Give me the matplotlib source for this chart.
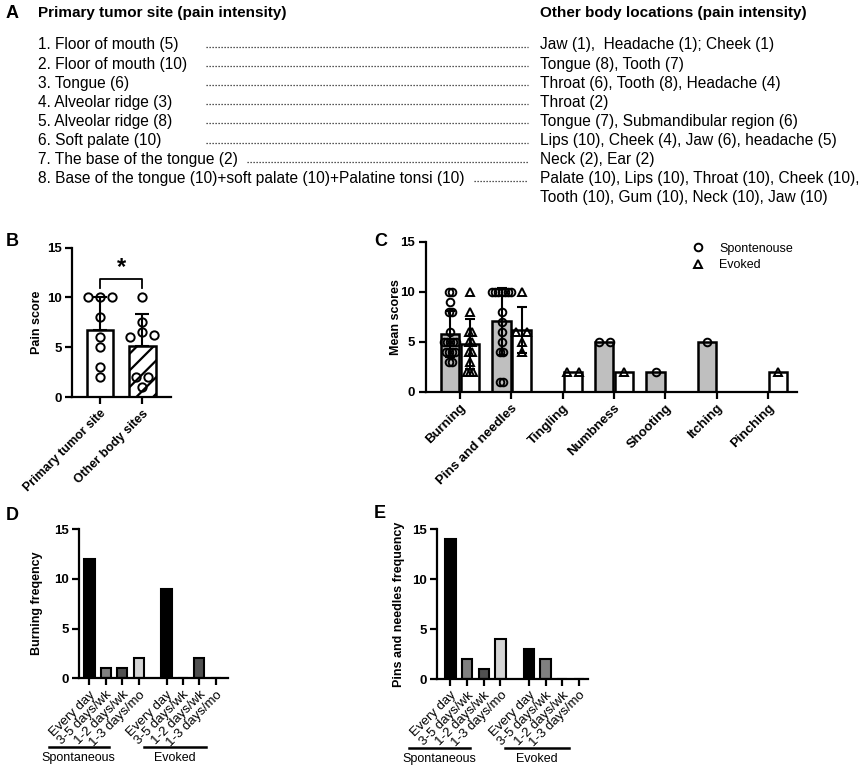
import numpy as np
import matplotlib
matplotlib.use('Agg')
import matplotlib.pyplot as plt
from matplotlib.lines import Line2D

plt.rcParams['font.family'] = ['Liberation Sans', 'DejaVu Sans']
plt.rcParams['hatch.linewidth'] = 1.6

# ---- panel A text
primary_sites = [
    "1. Floor of mouth (5)",
    "2. Floor of mouth (10)",
    "3. Tongue (6)",
    "4. Alveolar ridge (3)",
    "5. Alveolar ridge (8)",
    "6. Soft palate (10)",
    "7. The base of the tongue (2)",
    "8. Base of the tongue (10)+soft palate (10)+Palatine tonsi (10)",
]
other_sites = [
    "Jaw (1),  Headache (1); Cheek (1)",
    "Tongue (8), Tooth (7)",
    "Throat (6), Tooth (8), Headache (4)",
    "Throat (2)",
    "Tongue (7), Submandibular region (6)",
    "Lips (10), Cheek (4), Jaw (6), headache (5)",
    "Neck (2), Ear (2)",
    "Palate (10), Lips (10), Throat (10), Cheek (10),\nTooth (10), Gum (10), Neck (10), Jaw (10)",
]

# ---- panel B
b_labels = ["Primary tumor site", "Other body sites"]
primary_scores = [5, 10, 6, 3, 8, 10, 2, 10]
other_scores = [1, 7.5, 6, 2, 6.5, 6.25, 2, 10]

# ---- panel C
c_labels = ["Burning", "Pins and needles", "Tingling", "Numbness", "Shooting", "Itching", "Pinching"]
burning_spont = [10, 10, 9, 8, 8, 6, 5, 5, 5, 5, 5, 4, 4, 4, 4, 3, 3]
burning_evoked = [10, 8, 6, 6, 5, 5, 4, 4, 3, 2, 2, 2]
pins_spont = [10, 10, 10, 10, 10, 10, 10, 8, 7, 6, 5, 4, 4, 1, 1]
pins_evoked = [10, 6, 6, 5, 4]
tingling_spont = []
tingling_evoked = [2, 2]
numbness_spont = [5, 5]
numbness_evoked = [2]
shooting_spont = [2]
shooting_evoked = []
itching_spont = [5]
itching_evoked = []
pinching_spont = []
pinching_evoked = [2]

# ---- panels D, E
freq_labels = ["Every day", "3-5 days/wk", "1-2 days/wk", "1-3 days/mo"]
burning_spont_freq = [12, 1, 1, 2]
burning_evoked_freq = [9, 0, 2, 0]
pins_spont_freq = [14, 2, 1, 4]
pins_evoked_freq = [3, 2, 0, 0]
freq_colors = ["black", "#808080", "#505050", "#d4d4d4"]

W, H = 864, 770
fig = plt.figure(figsize=(W / 100, H / 100), dpi=100)


def fx(px):
    return px / W


def fy(py):
    return 1 - py / H


def add_ax(left, top, right, bottom):
    return fig.add_axes([fx(left), fy(bottom), (right - left) / W, (bottom - top) / H])


def style(ax, ylab, labx):
    for s in ["top", "right"]:
        ax.spines[s].set_visible(False)
    for s in ["left", "bottom"]:
        ax.spines[s].set_linewidth(1.6)
    ax.tick_params(width=1.6, length=5, labelsize=9.5, pad=2.5)
    ax.set_ylim(0, 15)
    ax.set_yticks([0, 5, 10, 15], ["0", "5", "10", "15"], fontweight="bold")
    ax.set_ylabel(ylab, fontsize=9, fontweight="bold")
    ax.yaxis.set_label_coords(labx, 0.5)


def spread(vals, step):
    # spread points sharing a value sideways, like a column scatter
    vals = np.asarray(vals, dtype=float)
    offs = np.zeros(len(vals))
    keys = np.round(vals)
    for k in np.unique(keys):
        idx = np.where(keys == k)[0]
        n = len(idx)
        offs[idx] = (np.arange(n) - (n - 1) / 2) * step
    return offs


# ---------------- A
fig.text(fx(6), fy(13), "A", fontsize=13, fontweight="bold", va="center")
fig.text(fx(38), fy(13), "Primary tumor site (pain intensity)", fontsize=11, fontweight="bold", va="center")
fig.text(fx(540), fy(13), "Other body locations (pain intensity)", fontsize=11, fontweight="bold", va="center")
renderer = fig.canvas.get_renderer()
row_h = 19.1
row = 0
for left, right in zip(primary_sites, other_sites):
    y = 45 + row * row_h
    t = fig.text(fx(38), fy(y), left, fontsize=11.2, va="center")
    x_end = t.get_window_extent(renderer).x1
    start = max(206, x_end + 9)
    fig.add_artist(Line2D([fx(start), fx(528)], [fy(y + 2), fy(y + 2)], transform=fig.transFigure,
                          ls=(0, (1, 1.4)), lw=0.9, color="#222222"))
    for j, part in enumerate(right.split("\n")):
        fig.text(fx(540), fy(y + j * row_h), part, fontsize=11.2, va="center")
    row += 1

# ---------------- B
fig.text(fx(6), fy(241), "B", fontsize=13, fontweight="bold", va="center")
axB = add_ax(72.3, 247.5, 170.7, 397)
b_data = [primary_scores, other_scores]
b_means = [np.mean(v) for v in b_data]
b_sds = [np.std(v, ddof=1) for v in b_data]
axB.bar(0, b_means[0], width=0.63, color="white", edgecolor="black", lw=1.8, zorder=2)
axB.bar(1, b_means[1], width=0.63, color="white", edgecolor="black", lw=1.8, hatch="//", zorder=2)
axB.errorbar([0, 1], b_means, yerr=[[0, 0], b_sds], fmt="none", ecolor="black",
             elinewidth=1.5, capsize=5, capthick=1.5, zorder=3)
for i, v in enumerate(b_data):
    axB.plot(i + spread(v, 0.28), v, "o", mfc="none", mec="black", ms=6, mew=1.4, zorder=4, clip_on=False)
top = max(max(v) for v in b_data)
axB.plot([0, 0, 1, 1], [top + 0.9, top + 1.8, top + 1.8, top + 0.9], color="black", lw=1.3, clip_on=False)
axB.text(0.5, top + 1.8, "*", ha="center", va="bottom", fontsize=17, fontweight="bold")
axB.set_xlim(-0.655, 1.67)
style(axB, "Pain score", -0.30)
axB.set_xticks([0, 1], b_labels, rotation=45, ha="right", rotation_mode="anchor",
               fontsize=9, fontweight="bold")

# ---------------- C
fig.text(fx(374), fy(241), "C", fontsize=13, fontweight="bold", va="center")
axC = add_ax(425.7, 242, 796.7, 391.7)
c_spont = [burning_spont, pins_spont, tingling_spont, numbness_spont, shooting_spont, itching_spont, pinching_spont]
c_evoked = [burning_evoked, pins_evoked, tingling_evoked, numbness_evoked, shooting_evoked, itching_evoked, pinching_evoked]
bw = 0.36
for series, off, fc, mk in [(c_spont, -0.19, "#bfbfbf", "o"), (c_evoked, 0.2, "white", "^")]:
    for i, v in enumerate(series):
        if len(v) == 0:
            continue
        m = np.mean(v)
        axC.bar(i + off, m, width=bw, color=fc, edgecolor="black", lw=1.8, zorder=2)
        if len(v) > 2:
            sd = np.std(v, ddof=1)
            axC.errorbar(i + off, m, yerr=sd, fmt="none", ecolor="black", elinewidth=1.5,
                         capsize=3.5, capthick=1.5, zorder=3)
        step = 0.06 if len(v) > 8 else 0.22
        axC.plot(i + off + spread(v, step), v, mk, mfc="none", mec="black", ms=5.5, mew=1.4, zorder=4)
axC.set_xlim(-0.668, 6.56)
style(axC, "Mean scores", -0.065)
axC.set_xticks(range(len(c_labels)), c_labels, rotation=45, ha="right", rotation_mode="anchor",
               fontsize=9.5, fontweight="bold")
handles = [Line2D([], [], marker="o", ls="none", mfc="none", mec="black", ms=5.5, mew=1.4, label="Spontenouse"),
           Line2D([], [], marker="^", ls="none", mfc="none", mec="black", ms=5.5, mew=1.4, label="Evoked")]
axC.legend(handles=handles, loc="upper right", bbox_to_anchor=(1.02, 1.07), frameon=False,
           fontsize=9, handletextpad=0.7, labelspacing=0.35)

# ---------------- D, E
pos = list(np.arange(4)) + list(np.arange(4) + 4.7)


def freq_panel(ax, spont, evoked, ylab, labx, xlim):
    vals = list(spont) + list(evoked)
    ax.bar(pos, vals, width=0.62, color=freq_colors * 2, edgecolor="black", lw=1.5, zorder=2)
    ax.set_xlim(*xlim)
    style(ax, ylab, labx)
    ax.set_xticks(pos, freq_labels * 2, rotation=45, ha="right", rotation_mode="anchor", fontsize=9.5)
    tr = ax.get_xaxis_transform()
    for a, b, name in [(-2.5, 1.2, "Spontaneous"), (3.3, 7.1, "Evoked")]:
        ax.plot([a, b], [-0.46, -0.46], color="black", lw=1.8, transform=tr, clip_on=False)
        ax.text((a + b) / 2, -0.535, name, transform=tr, ha="center", va="center", fontsize=9)


fig.text(fx(6), fy(515), "D", fontsize=13, fontweight="bold", va="center")
axD = add_ax(79, 529, 227.7, 678.3)
freq_panel(axD, burning_spont_freq, burning_evoked_freq, "Burning freqency", -0.24, (-0.64, 8.43))

fig.text(fx(374), fy(514), "E", fontsize=13, fontweight="bold", va="center")
axE = add_ax(437, 529.3, 588.3, 679)
freq_panel(axE, pins_spont_freq, pins_evoked_freq, "Pins and needles frequency", -0.21, (-0.8, 8.26))

fig.savefig("out.png", dpi=100)
